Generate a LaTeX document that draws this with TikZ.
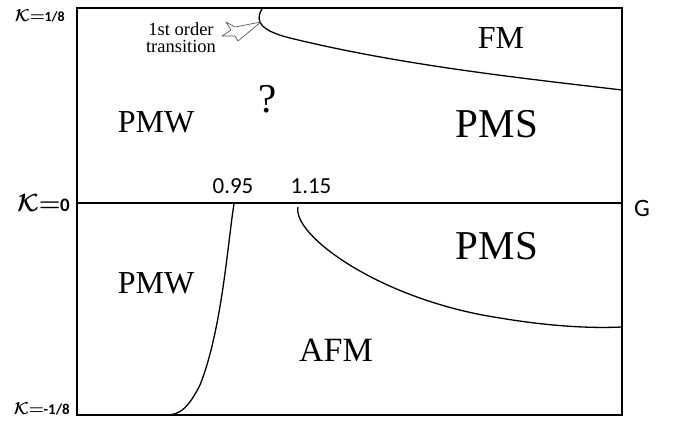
\documentclass[tikz,border=0pt]{standalone}
\usepackage{fontspec}
\setmainfont{Liberation Serif}
\newfontfamily\numfont{Carlito}

\tikzset{
    phase/.style={font=\fontsize{32}{32}\selectfont},
    bigphase/.style={font=\fontsize{41}{41}\selectfont},
    numlabel/.style={font=\numfont\fontsize{23}{23}\selectfont},
    klabel/.style={font=\boldmath\fontsize{#1}{#1}\selectfont, anchor=east, inner sep=1pt},
    boundary/.style={line width=1.3pt}
}
% K value label: #1 number, #2 size of the number
\newcommand{\kval}[2]{$\mathcal{K}\mathord{=}$\kern-0.5pt{\numfont\bfseries\fontsize{#2}{#2}\selectfont #1}}

\begin{document}
\begin{tikzpicture}[x=1pt, y=-1pt]

\def\xl{77}
\def\xr{622}
\def\yt{8}
\def\ym{203}
\def\yb{415}

\useasboundingbox (0,0) rectangle (678,421);

% Frame and the K=0 line
\draw[line width=1.4pt] (\xl,\yt) rectangle (\xr,\yb);
\draw[line width=1.2pt] (\xl,\ym) -- (\xr,\ym);

% Phase boundaries
\draw[boundary] (262,9) .. controls (254,22) and (262,31) .. (290,38)
    .. controls (400,65) and (520,78) .. (\xr,90); % FM / PMS
\draw[boundary] (234,204) .. controls (228,240) and (222,330) .. (200,385)
    .. controls (185,415) and (175,415) .. (163,415); % PMW / AFM
\draw[boundary] (298,207) .. controls (292,235) and (380,300) .. (500,318)
    .. controls (560,328) and (600,328) .. (\xr,327); % AFM / PMS

% Hand drawn arrow to the 1st order point
\draw[gray!70!black, line width=0.7pt, line join=round]
    (261,22) -- (235,27) -- (226,22) -- (231,30) -- (222,36) -- (235,36)
    -- (238,41) -- cycle;

% Axis labels
\node[klabel=18] (kTop) at (66,16) {\kval{1/8}{14}};
\node[klabel=23] (kMid) at (71,203) {\kval{0}{19}};
\node[klabel=19] (kBot) at (71,409) {\kval{-1/8}{15}};
\node[numlabel, font=\numfont\fontsize{25}{25}\selectfont] (g) at (642,208) {G};
\node[numlabel] (v095) at (233,186) {0.95};
\node[numlabel] (v115) at (311,186) {1.15};

% Phases
\node[phase] (fm) at (501,38) {FM};
\node[phase] (pmwUp) at (156,122) {PMW};
\node[bigphase] (quest) at (268,99) {?};
\node[bigphase] (pmsUp) at (497,124) {PMS};
\node[bigphase] (pmsLow) at (497,246) {PMS};
\node[phase] (pmwLow) at (156,283) {PMW};
\node[phase, font=\fontsize{34}{34}\selectfont] (afm) at (336,350) {AFM};

% Note
\node[align=center, font=\fontsize{18.5}{17}\selectfont, inner sep=1pt] (trans) at (181,38)
    {1st order\\transition};

\end{tikzpicture}
\end{document}
